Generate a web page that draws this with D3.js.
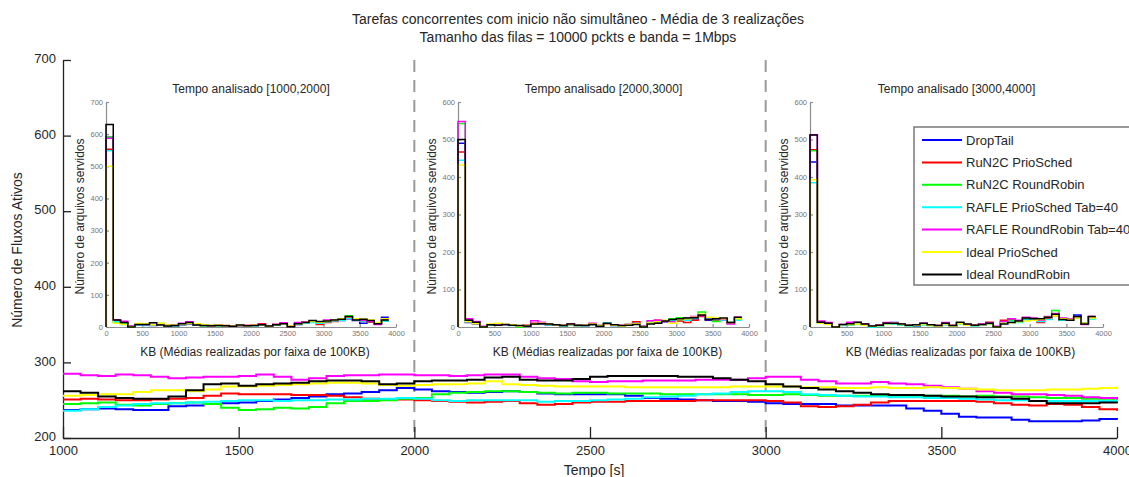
<!DOCTYPE html>
<html>
<head>
<meta charset="utf-8">
<script src="https://cdn.jsdelivr.net/npm/d3@7"></script>
<style>
  body { margin: 0; background: #fff; }
  svg { display: block; font-family: "Liberation Sans", Arial, sans-serif; }
</style>
</head>
<body>
<svg id="chart" width="1129" height="477"></svg>
<script>
// --- data -------------------------------------------------------------
const seriesNames = ["DropTail", "RuN2C PrioSched", "RuN2C RoundRobin", "RAFLE PrioSched Tab=40",
  "RAFLE RoundRobin Tab=40", "Ideal PrioSched", "Ideal RoundRobin"];
const seriesColors = ["#0000ff", "#ff0000", "#00ff00", "#00ffff", "#ff00ff", "#ffff00", "#000000"];

// sample times (s), one every 50 s
const tempo = d3.range(1000, 4001, 50);

const flowDropTail = [237,238,239,238,237,237,242,243,245,246,247,249,251,253,255,258,259,261,263,266,264,262,261,260,261,262,261,259,258,258,258,258,256,253,252,251,250,249,249,248,246,245,245,245,243,243,243,243,239,236,232,228,227,227,224,222,222,222,223,225,224];
const flowRunPrio = [251,252,251,250,250,251,252,253,256,259,258,258,258,257,257,256,254,252,251,251,250,249,248,247,248,249,246,244,245,247,248,248,249,249,249,249,250,250,250,250,249,247,242,241,242,244,247,249,249,249,249,249,248,246,244,243,245,244,241,238,236];
const flowRunRR = [245,246,247,244,243,245,246,247,245,240,237,238,240,239,241,246,249,249,250,252,253,258,260,261,262,262,261,260,259,260,260,259,259,259,258,258,258,258,258,257,257,258,257,256,256,256,257,256,256,256,256,255,256,255,255,254,253,253,252,252,251];
const flowRaflePrio = [236,238,241,243,245,246,246,247,248,249,250,250,249,250,250,251,251,252,252,253,252,250,249,250,250,250,250,248,249,249,250,251,252,254,255,256,258,259,261,262,262,261,258,257,256,255,255,254,254,253,253,252,251,250,250,249,249,249,249,249,249];
const flowRafleRR = [285,283,282,284,283,281,279,280,281,281,282,284,281,277,279,282,283,283,284,284,283,283,282,283,284,284,281,279,278,275,274,275,275,276,276,276,277,277,277,279,281,281,277,275,272,272,274,272,271,269,267,265,262,260,258,258,257,256,254,253,251];
const flowIdealPrio = [256,257,258,258,261,263,263,262,264,268,268,269,270,271,272,273,273,272,270,269,270,271,271,272,275,271,270,269,268,268,268,268,267,267,267,267,267,267,268,268,268,268,267,267,266,266,267,266,266,267,266,265,264,263,263,263,264,264,265,266,268];
const flowIdealRR = [262,260,255,253,252,252,255,263,271,272,269,271,272,273,275,276,276,275,271,272,275,276,276,277,280,281,277,276,276,278,281,282,282,282,282,281,281,279,277,275,271,268,266,264,262,260,258,257,257,256,255,255,254,254,252,249,246,246,246,247,246];

const flows = [flowDropTail, flowRunPrio, flowRunRR, flowRaflePrio, flowRafleRR, flowIdealPrio, flowIdealRR];

// histogram bins of 100 KB (0..3900), one array per series, in seriesNames order
const binStart = d3.range(0, 3900, 100);

const hist1000 = [
  [590,18,14,2,6,8,5,10,6,4,7,10,8,5,4,5,3,4,5,3,5,6,3,6,9,2,8,12,16,14,15,18,20,26,20,12,16,12,30],
  [553,20,12,1,8,6,7,9,4,6,8,11,7,6,3,6,5,3,4,5,6,10,4,7,12,3,11,14,15,8,14,17,22,28,22,18,15,10,20],
  [590,15,10,0,7,9,6,11,3,5,9,12,9,4,5,4,4,3,6,4,5,7,3,8,10,2,9,15,18,16,17,20,23,35,24,20,18,12,22],
  [548,16,8,1,6,5,6,9,5,5,8,11,7,6,4,5,3,2,5,4,5,6,2,7,9,3,10,12,14,12,16,19,21,27,22,19,17,11,18],
  [587,22,18,2,8,7,8,10,5,7,12,16,10,7,5,6,4,4,7,5,7,8,4,9,13,4,14,16,18,16,22,20,24,30,25,21,18,8,24],
  [500,12,8,1,11,10,7,12,6,6,9,12,10,7,5,6,4,3,6,4,6,7,3,8,10,3,10,14,17,15,18,21,26,32,26,25,22,14,26],
  [630,22,14,0,8,8,13,6,3,5,10,14,6,5,4,5,4,2,6,4,5,7,3,7,10,1,10,14,20,17,19,22,24,33,22,24,20,10,22]
];
const hist2000 = [
  [490,12,8,1,5,6,5,6,3,3,8,9,6,5,3,7,4,4,7,3,8,4,3,6,8,1,10,12,14,15,18,20,22,30,18,20,22,12,24],
  [467,20,14,0,6,8,6,5,2,5,10,12,8,6,4,6,4,5,8,4,9,5,4,7,14,2,12,18,16,20,16,12,18,28,20,18,20,10,22],
  [543,18,12,1,5,7,6,5,0,5,8,10,7,5,4,8,3,5,7,3,9,5,3,6,10,1,12,16,16,22,25,22,26,40,24,15,18,12,20],
  [445,15,10,1,6,7,5,4,2,4,9,11,7,5,3,6,3,4,9,4,11,4,3,7,9,2,10,14,16,18,20,18,24,32,22,20,18,12,18],
  [548,22,15,2,7,8,6,5,3,6,17,12,8,6,5,9,4,5,10,4,8,6,4,7,10,2,17,18,15,14,22,24,28,30,25,22,20,8,26],
  [432,14,9,1,8,10,7,6,3,5,9,10,8,6,4,7,4,5,8,4,9,5,3,7,9,1,11,14,18,10,20,22,26,34,26,24,22,12,22],
  [500,18,13,0,6,5,7,5,4,3,8,9,8,6,4,8,5,4,7,2,10,6,4,5,7,0,8,10,16,20,22,24,25,32,20,22,24,12,26]
];
const hist3000 = [
  [440,12,8,0,5,7,9,6,2,4,8,12,6,4,3,8,5,3,7,3,10,5,4,6,8,1,12,16,14,20,18,16,22,34,18,20,32,10,24],
  [473,14,10,1,6,8,10,7,3,5,10,9,7,4,5,9,5,4,9,4,11,6,5,7,13,1,18,20,16,24,20,12,22,30,20,18,24,8,26],
  [470,12,9,0,5,6,8,6,1,4,9,10,6,5,4,7,4,3,8,3,9,5,4,7,9,0,14,18,17,22,24,18,26,44,22,18,26,10,22],
  [385,10,8,1,4,6,9,7,0,3,8,8,5,3,4,6,6,3,7,2,8,6,3,6,8,1,11,15,12,18,20,15,20,32,18,20,24,9,22],
  [513,16,12,1,7,13,12,8,3,6,12,11,8,5,6,10,6,4,12,4,10,7,5,8,11,2,15,22,18,26,24,18,28,36,24,22,26,7,28],
  [393,10,7,0,6,7,8,5,2,4,9,10,7,4,5,8,5,3,8,3,9,5,4,6,9,0,10,12,14,16,18,20,26,30,22,20,24,10,24],
  [512,13,10,0,7,9,13,8,3,5,10,10,8,5,6,10,6,4,10,4,13,8,5,7,10,0,8,12,16,24,22,22,26,34,20,18,28,8,28]
];

const insetTitles = ["Tempo analisado [1000,2000]", "Tempo analisado [2000,3000]", "Tempo analisado [3000,4000]"];
const insetYMax = [700, 600, 600];
const insetLeft = [106, 458, 810];
const insetRight = [396, 749, 1103];
const dividers = [2000, 3000];

// --- chart ------------------------------------------------------------
const W = 1129, H = 477;
const svg = d3.select("#chart");
const txt = "#262626";
const fmt = d3.format("d");

const x = d3.scaleLinear().domain([1000, 4000]).range([63, 1117]);
const y = d3.scaleLinear().domain([200, 700]).range([438, 60]);

// titles
svg.append("text").attr("x", 578).attr("y", 24).attr("text-anchor", "middle")
  .style("font-size", "14px").style("fill", txt)
  .text("Tarefas concorrentes com inicio não simultâneo - Média de 3 realizações");
svg.append("text").attr("x", 578).attr("y", 42).attr("text-anchor", "middle")
  .style("font-size", "14px").style("fill", txt)
  .text("Tamanho das filas = 10000 pckts e banda = 1Mbps");

// dashed dividers
svg.append("g").selectAll("line").data(dividers).join("line")
  .attr("x1", d => x(d)).attr("x2", d => x(d))
  .attr("y1", y(700)).attr("y2", y(200))
  .attr("stroke", "#9a9a9a").attr("stroke-width", 2).attr("stroke-dasharray", "12,8");

// main axes
const gy = svg.append("g").attr("transform", `translate(${x(1000)},0)`)
  .call(d3.axisLeft(y).tickValues([200, 300, 400, 500, 600, 700]).tickFormat(fmt)
    .tickSize(-8).tickSizeOuter(0).tickPadding(7));
const gx = svg.append("g").attr("transform", `translate(0,${y(200)})`)
  .call(d3.axisBottom(x).tickValues([1000, 1500, 2000, 2500, 3000, 3500, 4000]).tickFormat(fmt)
    .tickSize(-11).tickSizeOuter(0).tickPadding(8));
[gx, gy].forEach(g => {
  g.selectAll("path,line").attr("stroke", "#222").attr("stroke-width", 1.3);
  g.selectAll("text").style("font-size", "13px").style("fill", txt).style("font-family", "Liberation Sans, Arial, sans-serif");
});
gy.selectAll("text").attr("dy", "0.2em");

svg.append("text").attr("transform", "translate(22,250) rotate(-90)").attr("text-anchor", "middle")
  .style("font-size", "14px").style("fill", txt).text("Número de Fluxos Ativos");
svg.append("text").attr("x", 594).attr("y", 475).attr("text-anchor", "middle")
  .style("font-size", "14px").style("fill", txt).text("Tempo [s]");

// time series
const line = d3.line().x((d, i) => x(tempo[i])).y(d => y(d)).curve(d3.curveStepAfter);
svg.append("g").attr("fill", "none")
  .selectAll("path").data(flows).join("path")
  .attr("d", line)
  .attr("stroke", (d, i) => seriesColors[i])
  .attr("stroke-width", 2);

// insets
[hist1000, hist2000, hist3000].forEach((hist, k) => {
  const ix = d3.scaleLinear().domain([0, 4000]).range([insetLeft[k], insetRight[k]]);
  const iy = d3.scaleLinear().domain([0, insetYMax[k]]).range([327, 102]);
  const g = svg.append("g");

  const ax = g.append("g").attr("transform", "translate(0,327)")
    .call(d3.axisBottom(ix).tickValues(d3.range(0, 4001, 500)).tickFormat(fmt).tickSize(-3).tickSizeOuter(0).tickPadding(4));
  const ay = g.append("g").attr("transform", `translate(${insetLeft[k]},0)`)
    .call(d3.axisLeft(iy).tickValues(d3.range(0, insetYMax[k] + 1, 100)).tickFormat(fmt).tickSize(-3).tickSizeOuter(0).tickPadding(3));
  [ax, ay].forEach(a => {
    a.selectAll("path,line").attr("stroke", "#8c8c8c").attr("stroke-width", 1.2);
    a.selectAll("text").style("font-size", "7.5px").style("fill", "#777")
      .style("font-family", "Liberation Sans, Arial, sans-serif");
  });

  const step = d3.line().x(d => ix(d[0])).y(d => iy(d[1])).curve(d3.curveStepAfter);
  g.append("g").attr("fill", "none")
    .selectAll("path").data(hist).join("path")
    .attr("d", vals => step([[0, 0]].concat(vals.map((v, i) => [binStart[i], v]), [[3900, vals[vals.length - 1]]])))
    .attr("stroke", (d, i) => seriesColors[i])
    .attr("stroke-width", 1.5);

  const cx = (insetLeft[k] + insetRight[k]) / 2;
  g.append("text").attr("x", cx).attr("y", 93).attr("text-anchor", "middle")
    .style("font-size", "12px").style("fill", txt).text(insetTitles[k]);
  g.append("text").attr("x", cx + 4).attr("y", 356).attr("text-anchor", "middle")
    .style("font-size", "12px").style("fill", txt).text("KB (Médias realizadas por faixa de 100KB)");
  g.append("text").attr("transform", `translate(${insetLeft[k] - 22},${iy(insetYMax[k] / 2) + 2}) rotate(-90)`)
    .attr("text-anchor", "middle")
    .style("font-size", "12px").style("fill", txt).text("Número de arquivos servidos");
});

// legend
const lg = svg.append("g").attr("transform", "translate(914,127)");
lg.append("rect").attr("width", 240).attr("height", 158)
  .attr("fill", "#fff").attr("stroke", "#7a7a7a").attr("stroke-width", 1.5);
const rows = lg.selectAll("g").data(seriesNames).join("g")
  .attr("transform", (d, i) => `translate(0,${13 + i * 22.4})`);
rows.append("line").attr("x1", 8).attr("x2", 48)
  .attr("stroke", (d, i) => seriesColors[i]).attr("stroke-width", 2);
rows.append("text").attr("x", 52).attr("dy", "0.35em")
  .style("font-size", "13px").style("fill", txt).text(d => d);
</script>
</body>
</html>
